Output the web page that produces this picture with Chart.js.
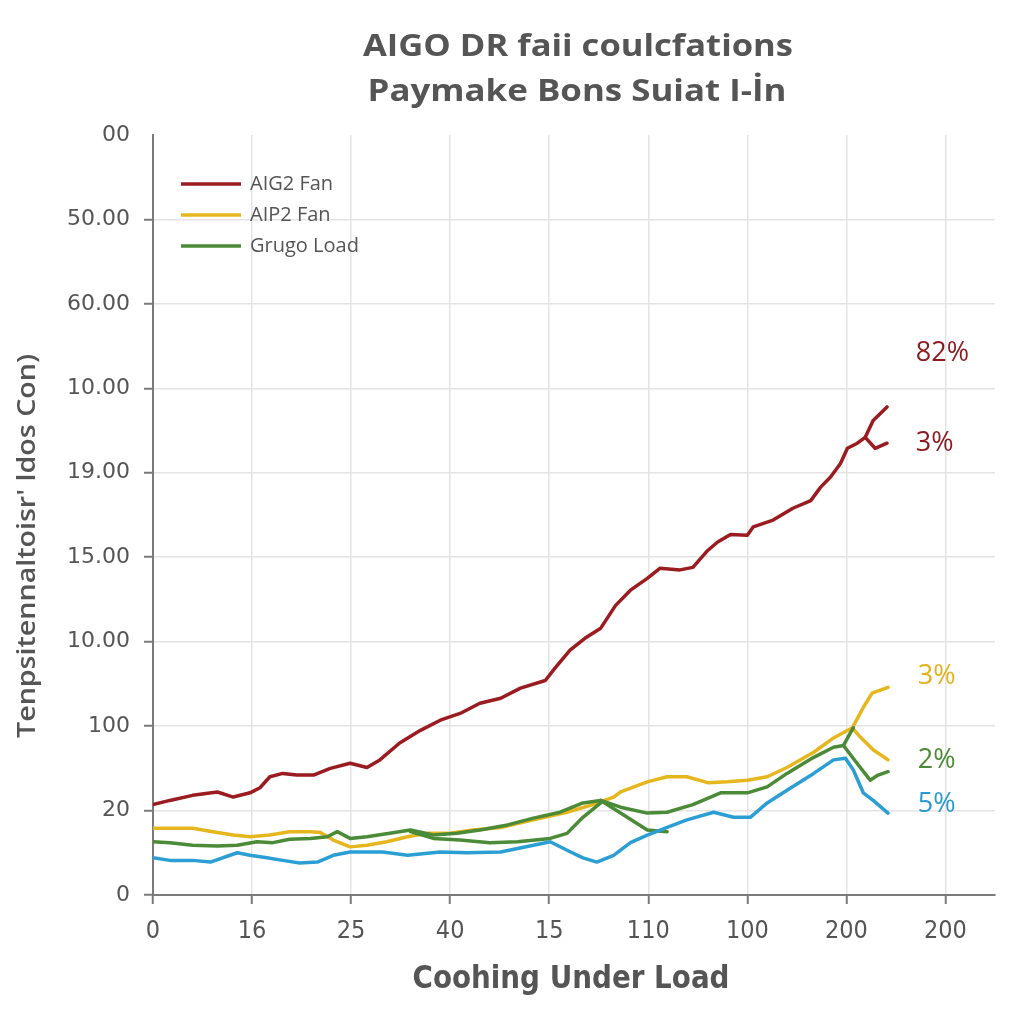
<!DOCTYPE html>
<html>
<head>
<meta charset="utf-8">
<script src="https://cdn.jsdelivr.net/npm/chart.js@4.4.1/dist/chart.umd.min.js"></script>
<style>
  html, body { margin: 0; padding: 0; background: #ffffff; }
  #wrap { width: 1024px; height: 1024px; position: relative; }
</style>
</head>
<body>
<div id="wrap"><canvas id="c" width="1024" height="1024"></canvas></div>
<script>
// ---------- text ----------
const titleLines = ['AIGO DR faii coulcfations', 'Paymake Bons Suiat I-İn'];
const xAxisTitle = 'Coohing Under Load';
const yAxisTitle = "Tenpsitennaltoisr' ldos Con)";

// ---------- tick labels (one per integer position) ----------
const xTickLabels = ['0', '16', '25', '40', '15', '110', '100', '200', '200'];
const yTickLabels = ['0', '20', '100', '10.00', '15.00', '19.00', '10.00', '60.00', '50.00', '00'];

// ---------- series (x, y in axis units) ----------
const aig2Fan = [[0,1.07],[0.17,1.12],[0.40,1.18],[0.65,1.22],[0.81,1.16],[0.98,1.21],[1.08,1.27],[1.18,1.40],[1.31,1.44],[1.45,1.42],[1.62,1.42],[1.79,1.50],[1.99,1.56],[2.16,1.51],[2.29,1.60],[2.49,1.80],[2.70,1.95],[2.90,2.07],[3.10,2.15],[3.30,2.27],[3.51,2.33],[3.71,2.45],[3.96,2.54],[4.06,2.69],[4.21,2.90],[4.36,3.04],[4.52,3.16],[4.67,3.43],[4.82,3.61],[4.99,3.75],[5.12,3.87],[5.32,3.85],[5.45,3.88],[5.60,4.08],[5.70,4.18],[5.83,4.27],[6.00,4.26],[6.06,4.36],[6.26,4.44],[6.46,4.58],[6.64,4.67],[6.74,4.83],[6.84,4.95],[6.94,5.11],[7.01,5.29],[7.11,5.35],[7.19,5.42],[7.27,5.62],[7.41,5.78]];
const aig2FanBranch = [[7.19,5.42],[7.29,5.29],[7.41,5.35]];

const aip2Fan = [[0,0.79],[0.17,0.79],[0.40,0.79],[0.65,0.74],[0.81,0.71],[0.98,0.69],[1.18,0.71],[1.38,0.75],[1.59,0.75],[1.69,0.74],[1.82,0.65],[1.99,0.57],[2.16,0.59],[2.36,0.63],[2.57,0.69],[2.77,0.73],[3.00,0.73],[3.23,0.77],[3.51,0.80],[3.84,0.89],[4.18,0.98],[4.44,1.07],[4.65,1.16],[4.72,1.22],[4.99,1.34],[5.19,1.40],[5.39,1.40],[5.60,1.33],[5.80,1.34],[6.00,1.36],[6.20,1.40],[6.40,1.51],[6.67,1.69],[6.87,1.86],[7.06,1.98],[7.17,2.22],[7.26,2.39],[7.42,2.46]];
const aip2FanBranch = [[7.06,1.98],[7.14,1.87],[7.27,1.72],[7.42,1.60]];

const grugoLoad = [[0,0.63],[0.17,0.62],[0.40,0.59],[0.65,0.58],[0.85,0.59],[1.05,0.63],[1.21,0.62],[1.38,0.66],[1.59,0.67],[1.76,0.69],[1.86,0.75],[1.99,0.67],[2.16,0.69],[2.39,0.73],[2.60,0.77],[2.83,0.71],[3.07,0.73],[3.30,0.77],[3.58,0.83],[3.84,0.91],[4.11,0.98],[4.34,1.09],[4.52,1.12],[4.72,1.04],[4.99,0.97],[5.19,0.98],[5.45,1.07],[5.73,1.21],[6.00,1.21],[6.20,1.28],[6.40,1.44],[6.67,1.63],[6.87,1.75],[6.97,1.77],[7.14,1.51],[7.24,1.36],[7.32,1.42],[7.42,1.46]];
const grugoLoadBranchA = [[2.60,0.75],[2.83,0.67],[3.10,0.65],[3.40,0.62],[3.68,0.63],[4.01,0.67],[4.18,0.73],[4.34,0.92],[4.52,1.09]];
const grugoLoadBranchB = [[4.52,1.12],[4.72,0.97],[4.99,0.77],[5.19,0.75]];
const grugoLoadBranchC = [[6.97,1.77],[7.04,1.92],[7.07,1.98]];

const blueSeries = [[0,0.44],[0.17,0.41],[0.40,0.41],[0.58,0.39],[0.85,0.50],[0.98,0.47],[1.15,0.44],[1.31,0.41],[1.48,0.38],[1.66,0.39],[1.82,0.47],[1.99,0.51],[2.32,0.51],[2.57,0.47],[2.90,0.51],[3.17,0.50],[3.51,0.51],[3.84,0.59],[4.01,0.63],[4.18,0.53],[4.34,0.44],[4.48,0.39],[4.65,0.47],[4.82,0.62],[4.99,0.71],[5.19,0.80],[5.39,0.89],[5.66,0.98],[5.86,0.92],[6.03,0.92],[6.20,1.09],[6.40,1.24],[6.67,1.44],[6.87,1.60],[6.99,1.62],[7.07,1.48],[7.17,1.21],[7.27,1.12],[7.42,0.97]];

// ---------- end labels ----------
const endLabelText = ['82%', '3%', '3%', '2%', '5%'];
const endLabelX = [7.70, 7.70, 7.72, 7.72, 7.72];
const endLabelY = [6.41, 5.35, 2.59, 1.60, 1.07];
const endLabelColor = ['#8e1a1f', '#8e1a1f', '#e2b21e', '#4c8a35', '#2a9ad0'];

// ---------- colours ----------
const RED = '#9a1b20', YELLOW = '#e6b61f', GREEN = '#4b8a36', BLUE = '#2b9fd3';
const TEXT = '#555555';

const toPts = arr => arr.map(p => ({ x: p[0], y: p[1] }));
function ds(label, data, color, legend) {
  return { label, data: toPts(data), borderColor: color, backgroundColor: color,
    borderWidth: 3.5, pointRadius: 0, tension: 0, fill: false, showInLegend: legend,
    borderCapStyle: 'round', borderJoinStyle: 'round' };
}

const datasets = [
  ds('Blue', blueSeries, BLUE, false),
  ds('Grugo Load', grugoLoad, GREEN, true),
  ds('Grugo Load b1', grugoLoadBranchA, GREEN, false),
  ds('Grugo Load b2', grugoLoadBranchB, GREEN, false),
  ds('Grugo Load b3', grugoLoadBranchC, GREEN, false),
  ds('AIP2 Fan', aip2Fan, YELLOW, true),
  ds('AIP2 Fan b', aip2FanBranch, YELLOW, false),
  ds('AIG2 Fan', aig2Fan, RED, true),
  ds('AIG2 Fan b', aig2FanBranch, RED, false),
];

function fitText(ctx, text, x, y, font, width, align) {
  ctx.save();
  ctx.font = font;
  const w = ctx.measureText(text).width;
  const s = width / w;
  ctx.translate(x, y);
  ctx.scale(s, 1);
  ctx.textAlign = align || 'center';
  ctx.textBaseline = 'middle';
  ctx.fillText(text, 0, 0);
  ctx.restore();
}

const decor = {
  id: 'decor',
  afterDraw(chart) {
    const ctx = chart.ctx;
    const ca = chart.chartArea;
    const xs = chart.scales.x, ys = chart.scales.y;
    ctx.save();
    ctx.fillStyle = TEXT;
    // title
    fitText(ctx, titleLines[0], 578, 47, "bold 30px 'Open Sans', sans-serif", 430);
    fitText(ctx, titleLines[1], 577, 92, "bold 30px 'Open Sans', sans-serif", 419);
    // x axis title
    fitText(ctx, xAxisTitle, 571, 980, "bold 32px 'Liberation Sans Narrow', 'DejaVu Sans Condensed', sans-serif", 317);
    // y axis title
    ctx.save();
    ctx.translate(28, 546);
    ctx.rotate(-Math.PI / 2);
    fitText(ctx, yAxisTitle, 0, 0, "600 25px 'Open Sans', sans-serif", 384);
    ctx.restore();

    // legend
    const legendItems = chart.data.datasets.filter(d => d.showInLegend).reverse();
    let ly = ca.top + 49;
    legendItems.forEach(d => {
      ctx.strokeStyle = d.borderColor;
      ctx.lineWidth = 3.5;
      ctx.beginPath();
      ctx.moveTo(ca.left + 28, ly);
      ctx.lineTo(ca.left + 88, ly);
      ctx.stroke();
      ctx.fillStyle = TEXT;
      ctx.font = "20px 'Open Sans', sans-serif";
      ctx.textAlign = 'left';
      ctx.textBaseline = 'middle';
      ctx.fillText(d.label, ca.left + 97, ly);
      ly += 31;
    });

    // end labels
    ctx.font = "27px 'Open Sans', sans-serif";
    ctx.textAlign = 'left';
    ctx.textBaseline = 'middle';
    endLabelText.forEach((t, i) => {
      ctx.fillStyle = endLabelColor[i];
      ctx.fillText(t, xs.getPixelForValue(endLabelX[i]), ys.getPixelForValue(endLabelY[i]));
    });
    ctx.restore();
  }
};

const bgPlugin = {
  id: 'bg',
  beforeDraw(chart) {
    const ctx = chart.ctx;
    ctx.save();
    ctx.fillStyle = '#ffffff';
    ctx.fillRect(0, 0, chart.width, chart.height);
    ctx.restore();
  }
};

new Chart(document.getElementById('c'), {
  type: 'line',
  data: { datasets },
  options: {
    responsive: false,
    animation: false,
    layout: { padding: { left: 0, right: 29, top: 135, bottom: 0 } },
    plugins: { legend: { display: false }, title: { display: false }, tooltip: { enabled: false } },
    scales: {
      x: {
        type: 'linear', min: 0, max: 8.5,
        afterBuildTicks: s => { s.ticks = xTickLabels.map((_, i) => ({ value: i })); },
        afterFit: s => { s.height = 129; },
        ticks: {
          callback: v => xTickLabels[v] ?? '',
          color: TEXT, padding: 12, maxRotation: 0, autoSkip: false,
          font: { family: "'Liberation Sans Narrow', 'DejaVu Sans Condensed', sans-serif", size: 25 }
        },
        grid: {
          color: c => (c.tick && c.tick.value === 0) ? 'rgba(0,0,0,0)' : '#e4e4e4',
          tickColor: '#7a7a7a', tickLength: 9, lineWidth: 1.5, tickWidth: 2
        },
        border: { color: '#7a7a7a', width: 2 }
      },
      y: {
        type: 'linear', min: 0, max: 9,
        afterBuildTicks: s => { s.ticks = yTickLabels.map((_, i) => ({ value: i })); },
        afterFit: s => { s.width = 153; },
        ticks: {
          callback: v => yTickLabels[v] ?? '',
          color: TEXT, padding: 14, autoSkip: false,
          font: { family: "'DejaVu Sans', sans-serif", size: 22 }
        },
        grid: {
          color: c => (c.tick && (c.tick.value === 0 || c.tick.value === 9)) ? 'rgba(0,0,0,0)' : '#e4e4e4',
          tickColor: c => (c.tick && c.tick.value === 9) ? 'rgba(0,0,0,0)' : '#7a7a7a',
          tickLength: 9, lineWidth: 1.5, tickWidth: 2
        },
        border: { color: '#7a7a7a', width: 2 }
      }
    }
  },
  plugins: [bgPlugin, decor]
});
</script>
</body>
</html>
